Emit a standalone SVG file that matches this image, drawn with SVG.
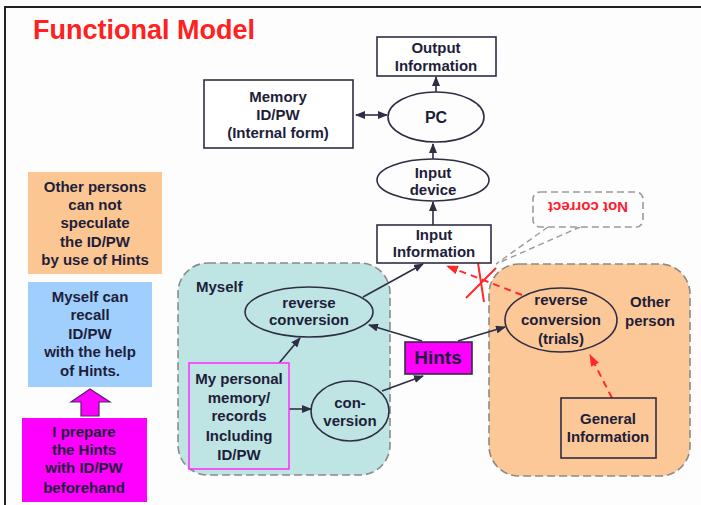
<svg xmlns="http://www.w3.org/2000/svg" width="701" height="505" viewBox="0 0 701 505">
  <style>
    text { font-family: "Liberation Sans", Arial, sans-serif; font-weight: bold; fill: #1e1e3a; text-anchor: middle; }
    .t { font-size: 15px; }
    .box { fill: #ffffff; stroke: #2e2e44; stroke-width: 1.6; }
    .ell { fill: none; stroke: #2e2e44; stroke-width: 1.6; }
    .region { stroke: #8a8a8a; stroke-width: 1.6; stroke-dasharray: 8 4; }
    .conn { fill: none; stroke: #2e2e44; stroke-width: 1.6; }
    .red { fill: none; stroke: #ff2a2a; stroke-width: 2; stroke-dasharray: 7 5; }
  </style>
  <defs>
    <marker id="ah" markerUnits="userSpaceOnUse" markerWidth="10" markerHeight="8" refX="9" refY="4" orient="auto">
      <path d="M0,0 L10,4 L0,8 Z" fill="#2e2e44"/>
    </marker>
    <marker id="ahs" markerUnits="userSpaceOnUse" markerWidth="10" markerHeight="8" refX="1" refY="4" orient="auto">
      <path d="M10,0 L0,4 L10,8 Z" fill="#2e2e44"/>
    </marker>
    <marker id="ahr" markerUnits="userSpaceOnUse" markerWidth="12" markerHeight="9" refX="11" refY="4.5" orient="auto">
      <path d="M0,0 L12,4.5 L0,9 Z" fill="#ff2a2a"/>
    </marker>
  </defs>

  <rect width="701" height="505" fill="#fdfdfd"/>
  <!-- frame -->
  <path d="M5,505 L5,7 L701,7" fill="none" stroke="#222" stroke-width="2"/>

  <text x="33" y="39" style="font-size:27px;fill:#ff2020;text-anchor:start">Functional Model</text>

  <!-- regions -->
  <g id="region-myself">
    <rect class="region" x="178" y="263" width="212" height="212" rx="30" fill="#bfe4e4"/>
    <text class="t" x="196" y="292" style="text-anchor:start">Myself</text>
  </g>
  <g id="region-other">
    <rect class="region" x="489" y="264" width="201" height="212" rx="30" fill="#fcc897"/>
    <text class="t" x="650" y="307">Other</text>
    <text class="t" x="650" y="326">person</text>
  </g>

  <!-- left notes -->
  <g id="note-others">
    <rect x="28" y="172" width="134" height="102" fill="#fcc692"/>
    <text class="t" x="95" y="192">Other persons</text>
    <text class="t" x="95" y="210">can not</text>
    <text class="t" x="95" y="228">speculate</text>
    <text class="t" x="95" y="247">the ID/PW</text>
    <text class="t" x="95" y="265">by use of Hints</text>
  </g>
  <g id="note-myself">
    <rect x="28" y="282" width="124" height="105" fill="#a0cffd"/>
    <text class="t" x="90" y="302">Myself can</text>
    <text class="t" x="90" y="320">recall</text>
    <text class="t" x="90" y="339">ID/PW</text>
    <text class="t" x="90" y="357">with the help</text>
    <text class="t" x="90" y="376">of Hints.</text>
  </g>
  <g id="up-arrow">
    <path d="M90,389 L110,402 L99,402 L99,416 L81,416 L81,402 L71,402 Z" fill="#ff00ff" stroke="#55226a" stroke-width="1.2"/>
  </g>
  <g id="note-prepare">
    <rect x="22" y="418" width="125" height="84" fill="#ff00ff"/>
    <text class="t" x="84" y="437">I prepare</text>
    <text class="t" x="84" y="455">the Hints</text>
    <text class="t" x="84" y="473">with ID/PW</text>
    <text class="t" x="84" y="493">beforehand</text>
  </g>

  <!-- connectors -->
  <g id="connectors">
    <line class="conn" x1="436" y1="92" x2="436" y2="77" marker-end="url(#ah)"/>
    <line class="conn" x1="356" y1="115" x2="387" y2="115" marker-start="url(#ahs)" marker-end="url(#ah)"/>
    <line class="conn" x1="433" y1="159" x2="433" y2="144" marker-end="url(#ah)"/>
    <line class="conn" x1="433" y1="225" x2="433" y2="202" marker-end="url(#ah)"/>
    <line class="conn" x1="363" y1="297" x2="423" y2="264" marker-end="url(#ah)"/>
    <line class="conn" x1="275" y1="368" x2="300" y2="338" marker-end="url(#ah)"/>
    <line class="conn" x1="289" y1="409" x2="311" y2="409" marker-end="url(#ah)"/>
    <line class="conn" x1="382" y1="391" x2="423" y2="376" marker-end="url(#ah)"/>
    <line class="conn" x1="422" y1="341" x2="369" y2="325" marker-end="url(#ah)"/>
    <line class="conn" x1="458" y1="341" x2="505" y2="327" marker-end="url(#ah)"/>
    <line class="red" x1="522" y1="295" x2="447" y2="266" marker-end="url(#ahr)"/>
    <line class="red" x1="612" y1="398" x2="590" y2="355" marker-end="url(#ahr)"/>
    <!-- crossed-out mark on the rejected path -->
    <path d="M478,263 L484,302 M466,298 L496,268" fill="none" stroke="#ff2a2a" stroke-width="2"/>
  </g>

  <!-- nodes -->
  <g id="output-information">
    <rect class="box" x="377" y="37" width="119" height="39"/>
    <text class="t" x="436" y="53">Output</text>
    <text class="t" x="436" y="71">Information</text>
  </g>
  <g id="memory">
    <rect class="box" x="204" y="80" width="149" height="68"/>
    <text class="t" x="278" y="102">Memory</text>
    <text class="t" x="278" y="120">ID/PW</text>
    <text class="t" x="278" y="138">(Internal form)</text>
  </g>
  <g id="pc">
    <ellipse class="ell" cx="436" cy="117" rx="48" ry="25" fill="#fff"/>
    <text x="436" y="123" style="font-size:16px">PC</text>
  </g>
  <g id="input-device">
    <ellipse class="ell" cx="433" cy="180" rx="56" ry="21" fill="#fff"/>
    <text class="t" x="433" y="178">Input</text>
    <text class="t" x="433" y="195">device</text>
  </g>
  <g id="input-information">
    <rect class="box" x="377" y="225" width="114" height="38"/>
    <text class="t" x="434" y="240">Input</text>
    <text class="t" x="434" y="257">Information</text>
  </g>
  <g id="reverse-conversion-myself">
    <ellipse class="ell" cx="309" cy="312" rx="64" ry="25"/>
    <text class="t" x="309" y="308">reverse</text>
    <text class="t" x="309" y="325">conversion</text>
  </g>
  <g id="personal-memory">
    <rect x="189" y="363" width="100" height="106" fill="#bfe4e4" stroke="#ff33ff" stroke-width="1.6"/>
    <text class="t" x="239" y="384">My personal</text>
    <text class="t" x="239" y="403">memory/</text>
    <text class="t" x="239" y="421">records</text>
    <text class="t" x="239" y="441">Including</text>
    <text class="t" x="239" y="460">ID/PW</text>
  </g>
  <g id="conversion">
    <ellipse class="ell" cx="350" cy="411" rx="39" ry="30"/>
    <text class="t" x="350" y="408">con-</text>
    <text class="t" x="350" y="426">version</text>
  </g>
  <g id="hints">
    <rect x="405" y="342" width="67" height="32" fill="#ff00ff" stroke="#2e2e44" stroke-width="1.6"/>
    <text x="438" y="364" style="font-size:19px">Hints</text>
  </g>
  <g id="reverse-conversion-other">
    <ellipse class="ell" cx="561" cy="320" rx="56" ry="32"/>
    <text class="t" x="561" y="305">reverse</text>
    <text class="t" x="561" y="325">conversion</text>
    <text class="t" x="561" y="344">(trials)</text>
  </g>
  <g id="general-information">
    <rect x="561" y="398" width="95" height="60" fill="none" stroke="#2e2e44" stroke-width="1.6"/>
    <text class="t" x="608" y="424">General</text>
    <text class="t" x="608" y="442">Information</text>
  </g>

  <!-- callout -->
  <g id="callout-not-correct">
    <path d="M548,227 L496,264 L580,227" fill="none" stroke="#9a9a9a" stroke-width="1.4" stroke-dasharray="6 4"/>
    <rect x="533" y="192" width="110" height="35" rx="7" fill="#fdfdfd" stroke="#9a9a9a" stroke-width="1.6" stroke-dasharray="7 4"/>
    <text x="588" y="218" transform="rotate(180 588 210)" style="font-size:15px;fill:#ff2030">Not correct</text>
  </g>
</svg>
